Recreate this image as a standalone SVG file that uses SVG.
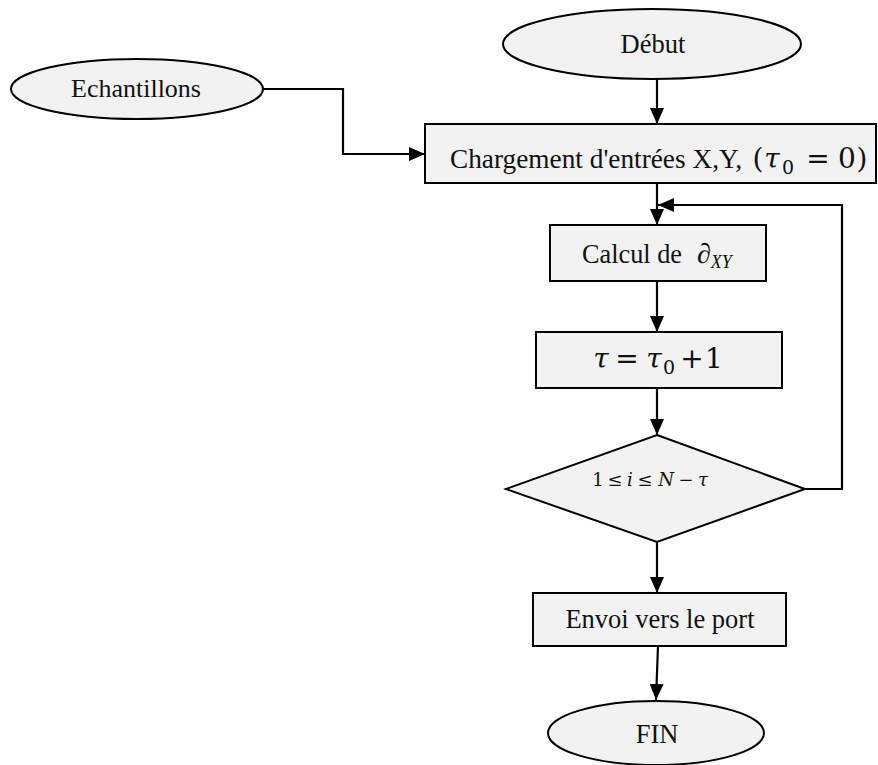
<svg xmlns="http://www.w3.org/2000/svg" width="878" height="765" viewBox="0 0 878 765">
  <defs>
    <marker id="arrow" viewBox="0 0 16 14" refX="16" refY="7" markerWidth="16" markerHeight="14" markerUnits="userSpaceOnUse" orient="auto">
      <path d="M0,0 L16,7 L0,14 z" fill="#000"/>
    </marker>
    <style>
      .shape { fill: #f2f2f2; stroke: #000; stroke-width: 2; }
      .conn { fill: none; stroke: #000; stroke-width: 2.2; marker-end: url(#arrow); }
      .lbl { font-family: "Liberation Serif", "Times New Roman", serif; font-size: 26.5px; fill: #111; }
      .math { font-family: "DejaVu Serif", "Liberation Serif", serif; fill: #111; text-anchor: middle; }
      .c { text-anchor: middle; }
      .it { font-style: italic; }
    </style>
  </defs>

  <rect width="878" height="765" fill="#fff"/>

  <!-- connectors -->
  <g id="connectors">
    <path class="conn" d="M657,79 V124"/>
    <path class="conn" d="M263,89 H343 V154 H425"/>
    <path class="conn" d="M657,183 V225"/>
    <path class="conn" d="M657,281 V332"/>
    <path class="conn" d="M657,388 V435"/>
    <path class="conn" d="M657,542 V593"/>
    <path class="conn" d="M658,646 L656,700"/>
    <path class="conn" d="M805,489 H842 V205 H658"/>
  </g>

  <g id="debut">
    <ellipse class="shape" cx="652" cy="44" rx="149" ry="35"/>
    <text class="lbl c" x="653" y="53">Début</text>
  </g>

  <g id="echantillons">
    <ellipse class="shape" cx="137" cy="89" rx="126" ry="30"/>
    <text class="lbl c" x="136" y="97" style="font-size:26px">Echantillons</text>
  </g>

  <g id="chargement">
    <rect class="shape" x="425" y="124" width="451" height="59"/>
    <text class="lbl" x="450" y="168" style="font-size:27px" textLength="292" lengthAdjust="spacingAndGlyphs">Chargement d'entrées X,Y,</text>
    <text class="math" y="168" style="font-size:28px"><tspan x="758">(</tspan><tspan class="it" x="772">τ</tspan><tspan x="788" dy="6" style="font-size:19px">0</tspan><tspan x="818" dy="-6">=</tspan><tspan x="847">0</tspan><tspan x="862">)</tspan></text>
  </g>

  <g id="calcul">
    <rect class="shape" x="550" y="225" width="216" height="56"/>
    <text class="lbl" x="582" y="263" style="font-size:27px" textLength="100" lengthAdjust="spacingAndGlyphs">Calcul de</text>
    <text class="lbl it" x="697" y="263" style="font-size:28px">∂<tspan dy="5" style="font-size:18px">XY</tspan></text>
  </g>

  <g id="increment">
    <rect class="shape" x="536" y="332" width="246" height="56"/>
    <text class="math" y="368" style="font-size:28px"><tspan class="it" x="601">τ</tspan><tspan x="627">=</tspan><tspan class="it" x="654">τ</tspan><tspan x="669" dy="6" style="font-size:19px">0</tspan><tspan x="692" dy="-6">+</tspan><tspan x="714">1</tspan></text>
  </g>

  <g id="condition">
    <polygon class="shape" points="657,435 805,489 657,542 506,489"/>
    <text class="math" y="486" style="font-size:18px"><tspan x="598">1</tspan><tspan x="615">≤</tspan><tspan class="it" x="630">i</tspan><tspan x="645">≤</tspan><tspan class="it" x="666">N</tspan><tspan x="686">−</tspan><tspan class="it" x="703">τ</tspan></text>
  </g>

  <g id="envoi">
    <rect class="shape" x="533" y="593" width="253" height="53"/>
    <text class="lbl c" x="660" y="628">Envoi vers le port</text>
  </g>

  <g id="fin">
    <ellipse class="shape" cx="656" cy="733" rx="108" ry="32"/>
    <text class="lbl c" x="657" y="743">FIN</text>
  </g>
</svg>
